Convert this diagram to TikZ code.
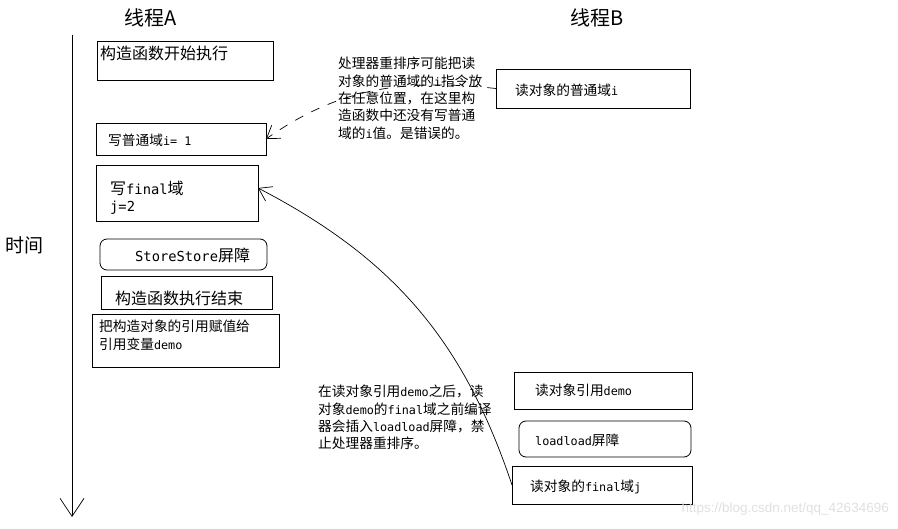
\documentclass[tikz,border=0pt]{standalone}
\usepackage{fontspec}
\setmainfont{Noto Sans CJK SC}
\setmonofont{DejaVu Sans Mono}[Scale=0.86]
\newfontfamily\wmfont{Liberation Sans}
\usetikzlibrary{arrows.meta}
\newcommand{\lat}[1]{\texttt{#1}}
\begin{document}
\begin{tikzpicture}[x=1pt,y=-1pt,
  box/.style={draw,line width=0.8pt,anchor=north west,inner sep=0,outer sep=0},
  barrier/.style={box,rounded corners=7pt},
  txt/.style={anchor=west,inner sep=0,font=\fontsize{13.7}{17}\selectfont,align=left},
  bigtxt/.style={anchor=west,inner sep=0,font=\fontsize{16}{19}\selectfont,align=left},
  title/.style={anchor=west,inner sep=0,font=\fontsize{20}{22}\selectfont},
  note/.style={anchor=north west,inner sep=0,font=\fontsize{13.7}{17.4}\selectfont,align=left},
  barb/.style={-{Straight Barb[length=12pt,width=16pt]}},
  conn/.style={line width=0.7pt}]
\useasboundingbox (0,0) rectangle (898,529);
% titles
\node[title] (tA) at (124,18) {线程A};
\node[title] (tB) at (570,18) {线程B};
\node[anchor=west,inner sep=0,font=\fontsize{19}{22}\selectfont] (time) at (5,245) {时间};
% time axis
\coordinate (ts) at (72,35);
\coordinate (te) at (72,517);
\draw[conn,-{Straight Barb[length=18pt,width=24pt]}] (ts) -- (te);
% thread A boxes
\node[box,minimum width=176,minimum height=39] (a1) at (97,41) {};
\node[bigtxt] (ta1) at (100,53) {构造函数开始执行};
\node[box,minimum width=170,minimum height=32] (a2) at (96,123) {};
\node[txt] (ta2) at (108,140) {写普通域\lat{i= 1}};
\node[box,minimum width=162,minimum height=56] (a3) at (96,165) {};
\node[bigtxt] (ta3a) at (110,188) {写\lat{final}域};
\node[bigtxt] (ta3b) at (110,208) {\lat{j=2}};
\node[barrier,minimum width=167,minimum height=31] (a4) at (100,239) {};
\node[bigtxt] (ta4) at (135,255) {\lat{StoreStore}屏障};
\node[box,minimum width=171,minimum height=33] (a5) at (101,276) {};
\node[bigtxt] (ta5) at (115,298) {构造函数执行结束};
\node[box,minimum width=187,minimum height=53] (a6) at (92,314) {};
\node[txt] (ta6a) at (99,326) {把构造对象的引用赋值给};
\node[txt] (ta6b) at (99,344) {引用变量\lat{demo}};
% thread B boxes
\node[box,minimum width=194,minimum height=39] (b1) at (496,69) {};
\node[txt] (tb1) at (515,90) {读对象的普通域\lat{i}};
\node[box,minimum width=178,minimum height=37] (b2) at (514,372) {};
\node[txt] (tb2) at (535,390) {读对象引用\lat{demo}};
\node[barrier,minimum width=172,minimum height=36] (b3) at (519,421) {};
\node[txt] (tb3) at (535,440) {\lat{loadload}屏障};
\node[box,minimum width=180,minimum height=38] (b4) at (512,466) {};
\node[txt] (tb4) at (530,487) {读对象的\lat{final}域\lat{j}};
% notes
\node[note] (n1) at (338,57) {处理器重排序可能把读\\对象的普通域的\lat{i}指令放\\在任意位置，在这里构\\造函数中还没有写普通\\域的\lat{i}值。是错误的。};
\node[note] (n2) at (318,385) {在读对象引用\lat{demo}之后，读\\对象\lat{demo}的\lat{final}域之前编译\\器会插入\lat{loadload}屏障，禁\\止处理器重排序。};
% connectors
\draw[conn,barb,dash pattern=on 9pt off 9pt] (b1.west) to[out=174,in=35] (a2.east);
\draw[conn,barb] (b4.west) to[bend right=22] ([yshift=5pt]a3.east);
% watermark
\node[anchor=east,inner sep=0,text=black!12,font=\wmfont\fontsize{13.5}{15}\selectfont] (wm) at (889,509) {https://blog.csdn.net/qq\_42634696};
\end{tikzpicture}
\end{document}
